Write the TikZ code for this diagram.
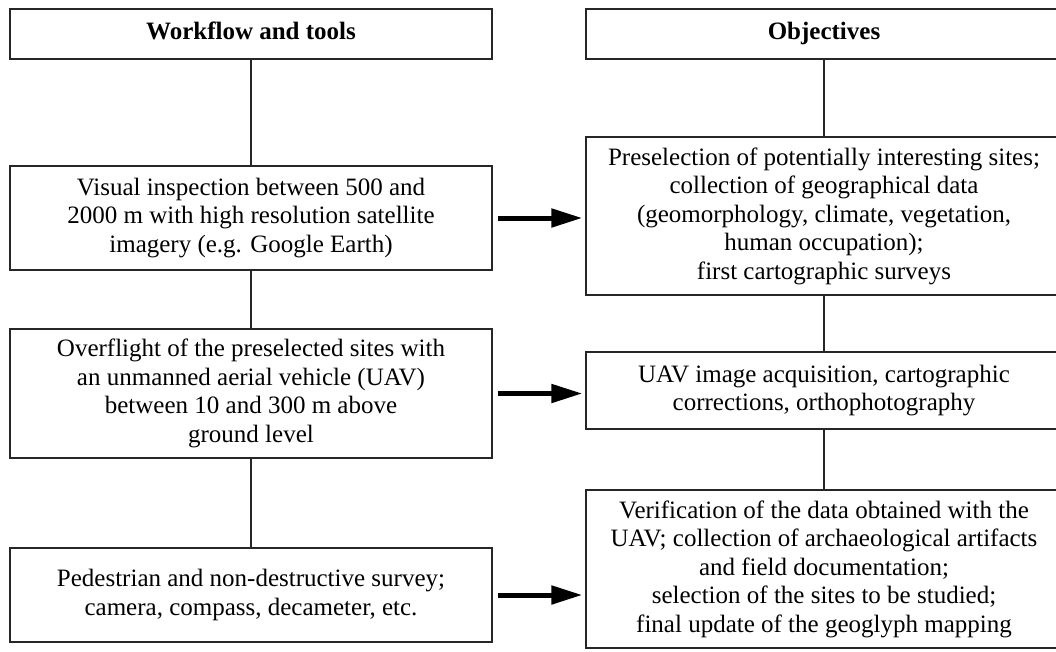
\documentclass[tikz,border=0pt]{standalone}
\usepackage{fontspec}
\setmainfont{Liberation Serif}
\usetikzlibrary{arrows.meta}
\begin{document}
\begin{tikzpicture}[x=1pt, y=-1pt,
  box/.style={draw=black!85, line width=1.3pt, align=center, inner sep=0pt,
    font=\fontsize{25pt}{28.5pt}\selectfont},
  hdr/.style={box, font=\fontsize{25pt}{28.5pt}\selectfont\bfseries, minimum height=50pt,
    text height=17pt, text depth=6pt},
  link/.style={draw=black!85, line width=1.3pt},
  flow/.style={line width=5pt, -{Triangle[length=31pt, width=18pt]}, shorten <=5pt, shorten >=3pt}]
\useasboundingbox (0,0) rectangle (1056,651);
\clip (0,0) rectangle (1056,651);
\node[hdr, minimum width=482pt] (hdrL) at (251,34){Workflow and tools};
\node[hdr, minimum width=476pt] (hdrR) at (824,34){Objectives};
\node[box, minimum width=482pt, minimum height=104pt] (toolA) at (251,218){Visual inspection between 500 and\\2000 m with high resolution satellite\\imagery (e.g. Google Earth)};
\node[box, minimum width=482pt, minimum height=129pt] (toolB) at (251,393.5){Overflight of the preselected sites with\\an unmanned aerial vehicle (UAV)\\between 10 and 300 m above\\ground level};
\node[box, minimum width=482pt, minimum height=94pt] (toolC) at (251,595){Pedestrian and non-destructive survey;\\camera, compass, decameter, etc.};
\node[box, minimum width=476pt, minimum height=158pt] (goalA) at (824,216){Preselection of potentially interesting sites;\\collection of geographical data\\(geomorphology, climate, vegetation,\\human occupation);\\first cartographic surveys};
\node[box, minimum width=476pt, minimum height=77pt] (goalB) at (824,390.5){UAV image acquisition, cartographic\\corrections, orthophotography};
\node[box, minimum width=476pt, minimum height=158pt] (goalC) at (824,569){Verification of the data obtained with the\\UAV; collection of archaeological artifacts\\and field documentation;\\selection of the sites to be studied;\\final update of the geoglyph mapping};
\draw[link](hdrL) -- (toolA);
\draw[link](toolA) -- (toolB);
\draw[link](toolB) -- (toolC);
\draw[link](hdrR) -- (goalA);
\draw[link](goalA) -- (goalB);
\draw[link](goalB) -- (goalC);
\draw[flow](toolA.east) -- (toolA.east -| goalA.west);
\draw[flow](toolB.east) -- (toolB.east -| goalB.west);
\draw[flow](toolC.east) -- (toolC.east -| goalC.west);
\end{tikzpicture}
\end{document}
